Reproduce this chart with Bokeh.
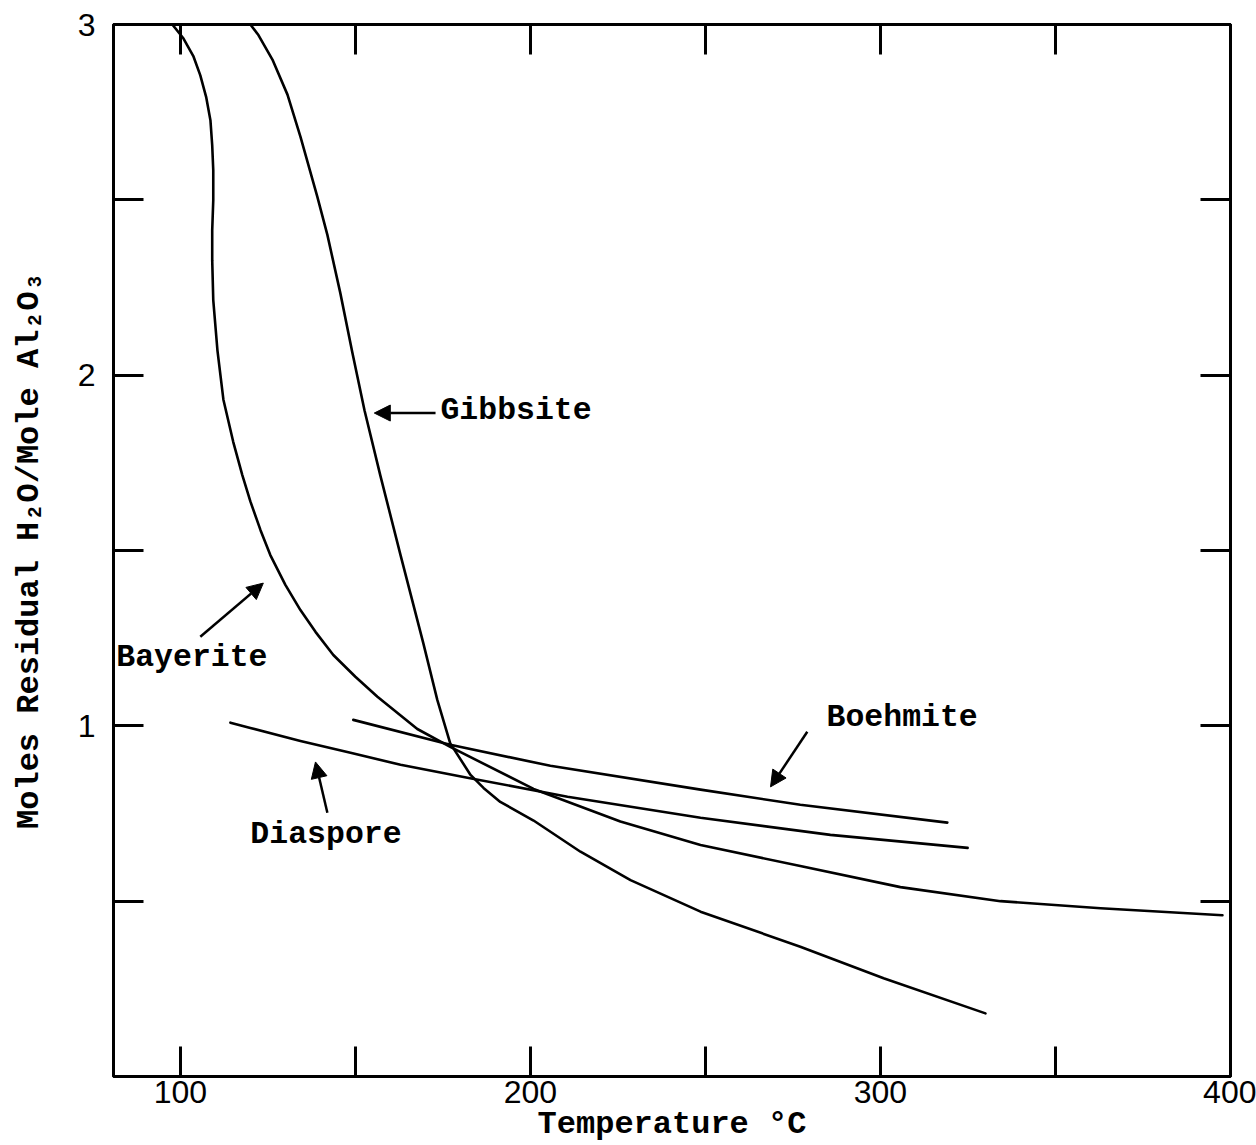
from bokeh.plotting import figure
from bokeh.models import Range1d, FixedTicker, LinearAxis, Arrow, NormalHead, ColumnDataSource
from bokeh.core.properties import value
from bokeh.embed import file_html
from bokeh.resources import INLINE

# ---------------- data (temperature in °C, moles residual H2O / mole Al2O3) -------------
gibbsite_t = [120.0, 122.3, 126.3, 130.6, 134.3, 139.1, 142.0, 145.7, 149.1, 152.6, 157.1,
              162.9, 169.4, 173.4, 177.1, 182.9, 186.6, 191.4, 200.9, 214.3, 228.6, 248.6,
              277.1, 300.9, 330.0]
gibbsite_w = [3.00, 2.97, 2.90, 2.80, 2.68, 2.51, 2.40, 2.234, 2.066, 1.900, 1.715,
              1.487, 1.236, 1.074, 0.95, 0.86, 0.823, 0.783, 0.73, 0.641, 0.56, 0.47,
              0.37, 0.28, 0.18]

bayerite_t = [97.7, 100.9, 103.7, 105.7, 107.4, 108.6, 109.1, 109.4, 109.4, 109.1, 109.1,
              109.4, 110.6, 112.3, 115.1, 117.7, 120.0, 122.9, 125.7, 130.0, 134.3, 138.6,
              143.7, 150.0, 156.3, 167.7, 177.1, 200.9, 225.7, 248.6, 277.1, 305.7, 334.3,
              362.9, 397.7]
bayerite_w = [3.00, 2.96, 2.91, 2.855, 2.792, 2.726, 2.655, 2.584, 2.499, 2.413, 2.328,
              2.214, 2.07, 1.93, 1.81, 1.715, 1.64, 1.558, 1.487, 1.402, 1.330, 1.268,
              1.202, 1.140, 1.083, 0.991, 0.940, 0.82, 0.727, 0.66, 0.60, 0.54, 0.50,
              0.48, 0.46]

boehmite_t = [149.4, 177.1, 205.7, 248.6, 277.1, 319.1]
boehmite_w = [1.017, 0.946, 0.886, 0.818, 0.775, 0.724]

diaspore_t = [114.3, 120.0, 134.3, 148.6, 162.9, 182.0, 210.6, 248.6, 285.7, 324.9]
diaspore_w = [1.009, 0.994, 0.957, 0.923, 0.889, 0.852, 0.798, 0.738, 0.689, 0.652]

x_ticks = [100, 150, 200, 250, 300, 350, 400]
x_labels = {100: "100", 150: "", 200: "200", 250: "", 300: "300", 350: "", 400: "400"}
y_ticks = [0.5, 1.0, 1.5, 2.0, 2.5, 3.0]
y_labels = {0.5: "", 1.0: "1", 1.5: "", 2.0: "2", 2.5: "", 3.0: "3"}

series_names = ["Gibbsite", "Bayerite", "Diaspore", "Boehmite"]

# ---------------- annotation layout --------------------------------------------------
label_x = [174.3, 81.7, 120.0, 284.6]
label_y = [1.90, 1.194, 0.689, 1.023]
arrows = [  # (x_start, y_start, x_end, y_end)
    (172.9, 1.892, 155.4, 1.892),
    (105.7, 1.254, 123.7, 1.407),
    (142.0, 0.752, 138.6, 0.897),
    (279.1, 0.983, 268.6, 0.826),
]

MONO = "Liberation Mono"

p = figure(width=1256, height=1145, output_backend="svg", toolbar_location=None,
           x_range=Range1d(80.9, 400), y_range=Range1d(0, 3),
           min_border_left=113, min_border_right=26, min_border_top=24, min_border_bottom=68,
           background_fill_color="white", border_fill_color="white")

p.xgrid.visible = False
p.ygrid.visible = False
p.outline_line_color = "black"
p.outline_line_width = 3

def style_axis(ax, ticks, overrides, show_labels):
    ax.ticker = FixedTicker(ticks=ticks)
    ax.major_label_overrides = overrides
    ax.major_tick_in = 30
    ax.major_tick_out = 0
    ax.minor_tick_in = 0
    ax.minor_tick_out = 0
    ax.major_tick_line_width = 3
    ax.major_tick_line_color = "black"
    ax.axis_line_width = 3
    ax.axis_line_color = "black"
    if show_labels:
        ax.major_label_text_font = "Liberation Sans"
        ax.major_label_text_font_size = "32px"
        ax.major_label_text_color = "black"
    else:
        ax.major_label_text_font_size = "0px"
        ax.major_label_text_alpha = 0
        ax.major_label_standoff = 0

xa = p.xaxis[0]
style_axis(xa, x_ticks, x_labels, True)
xa.major_label_standoff = 4
xa.axis_label = "Temperature °C"
xa.axis_label_text_font = MONO
xa.axis_label_text_font_style = "bold"
xa.axis_label_text_font_size = "32px"
xa.axis_label_text_color = "black"
xa.axis_label_standoff = 0

ya = p.yaxis[0]
style_axis(ya, y_ticks, y_labels, True)
ya.major_label_orientation = "horizontal"
ya.major_label_standoff = 18
ya.axis_label = "Moles Residual H₂O/Mole Al₂O₃"
ya.axis_label_text_font = MONO
ya.axis_label_text_font_style = "bold"
ya.axis_label_text_font_size = "32px"
ya.axis_label_text_color = "black"
ya.axis_label_standoff = 27

top = LinearAxis()
style_axis(top, x_ticks, {t: "" for t in x_ticks}, False)
p.add_layout(top, "above")

right = LinearAxis()
style_axis(right, y_ticks, {t: "" for t in y_ticks}, False)
p.add_layout(right, "right")

for t, w in [(gibbsite_t, gibbsite_w), (bayerite_t, bayerite_w),
             (boehmite_t, boehmite_w), (diaspore_t, diaspore_w)]:
    p.line(t, w, line_color="black", line_width=2.6, line_join="round", line_cap="round")

src = ColumnDataSource(dict(x=label_x, y=label_y, text=series_names))
p.text(x="x", y="y", text="text", source=src, text_font=value(MONO),
       text_font_style="bold", text_font_size="31.5px", text_color="black",
       text_align="left", text_baseline="middle")

for xs, ys, xe, ye in arrows:
    p.add_layout(Arrow(end=NormalHead(size=16, fill_color="black", line_color="black", line_width=1),
                       x_start=xs, y_start=ys, x_end=xe, y_end=ye,
                       line_color="black", line_width=2.5))

open("out.html", "w").write(file_html(p, INLINE))
